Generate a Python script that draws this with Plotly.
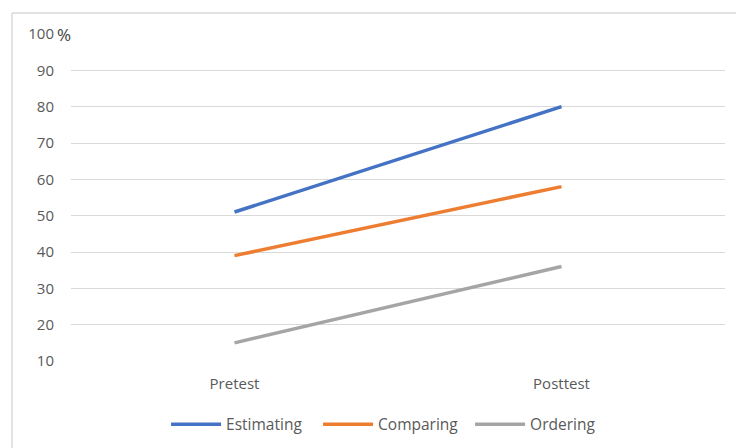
import plotly.graph_objects as go

categories = ["Pretest", "Posttest"]
estimating = [51, 80]
comparing = [39, 58]
ordering = [15, 36]
y_ticks = [10, 20, 30, 40, 50, 60, 70, 80, 90, 100]
y_labels = ["10", "20", "30", "40", "50", "60", "70", "80", "90", "100"]

series = [
    ("Estimating", estimating, "#4472C4"),
    ("Comparing", comparing, "#ED7D31"),
    ("Ordering", ordering, "#A5A5A5"),
]

fig = go.Figure()
for name, vals, color in series:
    fig.add_trace(go.Scatter(
        x=categories, y=vals, name=name, mode="lines",
        line=dict(color=color, width=3.5),
    ))

FAM = "Open Sans, Liberation Sans, sans-serif"
font = dict(family=FAM, size=15, color="#595959")

fig.update_layout(
    width=736, height=448,
    margin=dict(l=71, r=11, t=34, b=87, autoexpand=False),
    paper_bgcolor="white", plot_bgcolor="white",
    font=font,
    showlegend=True,
    legend=dict(orientation="h", x=0.494, xanchor="center", y=-0.143, yanchor="top",
                font=dict(family=FAM, size=15.5, color="#595959"), itemwidth=50,
                entrywidth=87, entrywidthmode="pixels", tracegroupgap=0),
    xaxis=dict(range=[-0.5, 1.5], showgrid=False, zeroline=False, showline=False,
               ticks="", ticklabelstandoff=12, automargin=False,
               tickfont=dict(family=FAM, size=15, color="#595959")),
    yaxis=dict(range=[10, 100], tickvals=y_ticks, ticktext=y_labels, showgrid=True,
               gridcolor="#D9D9D9", gridwidth=1, zeroline=False, showline=False,
               ticks="", ticklen=0, ticklabelstandoff=16, automargin=False,
               tickfont=dict(family=FAM, size=15, color="#595959")),
    shapes=[
        dict(type="line", xref="paper", yref="paper", x0=-0.0902, x1=1.1, y0=1.064, y1=1.064,
             line=dict(color="#D9D9D9", width=1.5)),
        dict(type="line", xref="paper", yref="paper", x0=-0.0902, x1=-0.0902, y0=1.064, y1=-0.5,
             line=dict(color="#D9D9D9", width=1.5)),
    ],
    annotations=[
        dict(text="%", xref="paper", yref="y", x=-0.011, y=100, xanchor="center", yanchor="middle",
             showarrow=False, font=dict(family=FAM, size=17, color="#404040")),
    ],
)

fig.write_html("out.html")
